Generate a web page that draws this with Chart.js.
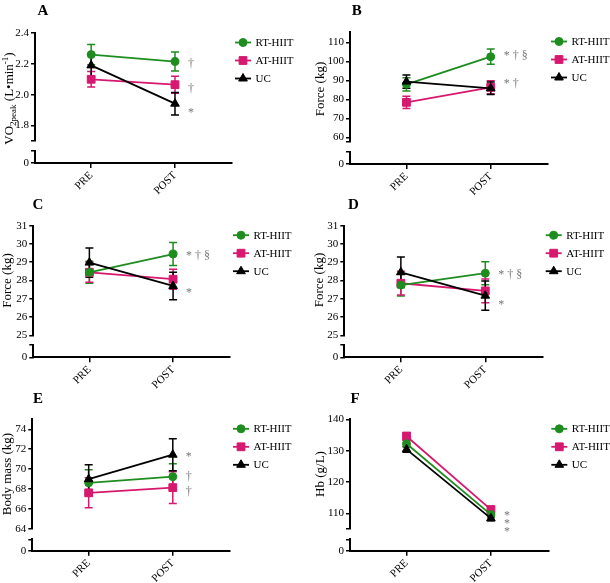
<!DOCTYPE html>
<html>
<head>
<meta charset="utf-8">
<script src="https://cdn.jsdelivr.net/npm/chart.js@4.4.0/dist/chart.umd.min.js"></script>
<style>
  html, body { margin: 0; padding: 0; background: #fff; }
  body { width: 610px; height: 583px; position: relative; overflow: hidden; }
  canvas { position: absolute; }
</style>
</head>
<body>
<canvas id="pA"></canvas>
<canvas id="pB"></canvas>
<canvas id="pC"></canvas>
<canvas id="pD"></canvas>
<canvas id="pE"></canvas>
<canvas id="pF"></canvas>
<script>
const categories = ['PRE', 'POST'];
const seriesNames = ['RT-HIIT', 'AT-HIIT', 'UC'];

// A - VO2peak (L/min), mean and SEM
const vo2Rt = [2.26, 2.215];  const vo2RtSem = [0.065, 0.062];
const vo2At = [2.10, 2.065];  const vo2AtSem = [0.05, 0.055];
const vo2Uc = [2.19, 1.942];  const vo2UcSem = [0.075, 0.073];
const vo2Ticks = [1.8, 2.0, 2.2, 2.4];
const vo2Marks = [['†', 2.2], ['†', 2.037], ['*', 1.904]];

// B - force (kg)
const forceBRt = [87.9, 102.4]; const forceBRtSem = [3.5, 4.0];
const forceBAt = [78.4, 86.3];  const forceBAtSem = [3.2, 3.4];
const forceBUc = [89.3, 85.8];  const forceBUcSem = [3.5, 3.3];
const forceBTicks = [60, 70, 80, 90, 100, 110];
const forceBMarks = [['* † §', 102.8], ['* †', 88]];

// C - force (kg)
const forceCRt = [28.45, 29.45]; const forceCRtSem = [0.6, 0.63];
const forceCAt = [28.45, 28.07]; const forceCAtSem = [0.55, 0.55];
const forceCUc = [28.98, 27.7];  const forceCUcSem = [0.8, 0.75];
const forceCTicks = [25, 26, 27, 28, 29, 30, 31];
const forceCMarks = [['* † §', 29.35], ['*', 27.5]];

// D - force (kg)
const forceDRt = [27.75, 28.4];  const forceDRtSem = [0.6, 0.63];
const forceDAt = [27.85, 27.43]; const forceDAtSem = [0.65, 0.65];
const forceDUc = [28.45, 27.17]; const forceDUcSem = [0.83, 0.8];
const forceDTicks = [25, 26, 27, 28, 29, 30, 31];
const forceDMarks = [['* † §', 28.3], ['*', 26.85]];

// E - body mass (kg)
const massRt = [68.63, 69.25]; const massRtSem = [1.3, 1.3];
const massAt = [67.63, 68.15]; const massAtSem = [1.5, 1.6];
const massUc = [69.0, 71.45];  const massUcSem = [1.45, 1.6];
const massTicks = [64, 66, 68, 70, 72, 74];
const massMarks = [['*', 71.5], ['†', 69.2], ['†', 67.7]];

// F - Hb (g/L)
const hbRt = [132.2, 109.6]; const hbRtSem = [1.0, 0.9];
const hbAt = [134.6, 111.2]; const hbAtSem = [1.2, 1.0];
const hbUc = [130.4, 108.4]; const hbUcSem = [0.9, 0.8];
const hbTicks = [110, 120, 130, 140];
const hbMarks = [['*', 110.1], ['*', 107.5], ['*', 104.9]];

const SERIF = "'Liberation Serif', 'Times New Roman', serif";
const colors = ['#1f8c1f', '#d6186f', '#000000'];
const markers = ['circle', 'rect', 'triangle'];
const markerSize = [4, 5.5, 5];
const drawOrder = [1, 2, 0]; // UC on top

const panels = [
  { id: 'pA', letter: 'A', letterAt: [43, 11], box: [0, 0, 300, 205],
    area: { l: 35, t: 33, ub: 141, lt: 151, b: 163, r: 232 }, range: [1.7, 2.4], digits: 1,
    ticks: vo2Ticks, marks: vo2Marks, titleAt: [10, 98.5],
    title: [{ t: 'VO' }, { t: '2peak', sub: true }, { t: ' (L•min' }, { t: '-1', sup: true }, { t: ')' }],
    series: [{ mean: vo2Rt, sem: vo2RtSem }, { mean: vo2At, sem: vo2AtSem }, { mean: vo2Uc, sem: vo2UcSem }] },
  { id: 'pB', letter: 'B', letterAt: [356.7, 11], box: [300, 0, 310, 205],
    area: { l: 350, t: 32, ub: 141.7, lt: 151.7, b: 164, r: 548 }, range: [57.7, 115.4], digits: 0,
    ticks: forceBTicks, marks: forceBMarks, titleAt: [320.7, 89], title: [{ t: 'Force (kg)' }],
    series: [{ mean: forceBRt, sem: forceBRtSem }, { mean: forceBAt, sem: forceBAtSem }, { mean: forceBUc, sem: forceBUcSem }] },
  { id: 'pC', letter: 'C', letterAt: [38, 205], box: [0, 193, 300, 205],
    area: { l: 33.3, t: 225.7, ub: 335.3, lt: 345, b: 357.3, r: 230 }, range: [25, 31], digits: 0,
    ticks: forceCTicks, marks: forceCMarks, titleAt: [7.3, 280.5], title: [{ t: 'Force (kg)' }],
    series: [{ mean: forceCRt, sem: forceCRtSem }, { mean: forceCAt, sem: forceCAtSem }, { mean: forceCUc, sem: forceCUcSem }] },
  { id: 'pD', letter: 'D', letterAt: [353.3, 205], box: [300, 193, 310, 205],
    area: { l: 344.3, t: 225.7, ub: 335.3, lt: 345, b: 357.3, r: 542.7 }, range: [25, 31], digits: 0,
    ticks: forceDTicks, marks: forceDMarks, titleAt: [319.5, 280], title: [{ t: 'Force (kg)' }],
    series: [{ mean: forceDRt, sem: forceDRtSem }, { mean: forceDAt, sem: forceDAtSem }, { mean: forceDUc, sem: forceDUcSem }] },
  { id: 'pE', letter: 'E', letterAt: [38, 399], box: [0, 387, 300, 196],
    area: { l: 32.3, t: 419.3, ub: 529, lt: 539.3, b: 550.7, r: 230 }, range: [64, 75], digits: 0,
    ticks: massTicks, marks: massMarks, titleAt: [7.3, 474], title: [{ t: 'Body mass (kg)' }],
    series: [{ mean: massRt, sem: massRtSem }, { mean: massAt, sem: massAtSem }, { mean: massUc, sem: massUcSem }] },
  { id: 'pF', letter: 'F', letterAt: [355, 399], box: [300, 387, 310, 196],
    area: { l: 350, t: 419.3, ub: 529, lt: 539.3, b: 550.7, r: 548.3 }, range: [105, 140], digits: 0,
    ticks: hbTicks, marks: hbMarks, titleAt: [320.7, 474], title: [{ t: 'Hb (g/L)' }],
    series: [{ mean: hbRt, sem: hbRtSem }, { mean: hbAt, sem: hbAtSem }, { mean: hbUc, sem: hbUcSem }] }
];

const Y_W = 28;

// error bars, legend, labels, annotations
function decor(p) {
  const [ox, oy] = p.box;
  return {
    id: 'decor',
    beforeDatasetsDraw(chart) {
      const { ctx } = chart;
      const x = chart.scales.x, y = chart.scales.y;
      chart.data.datasets.forEach(ds => {
        ctx.save();
        ctx.strokeStyle = ds.borderColor;
        ctx.lineWidth = 1.5;
        ds.data.forEach((pt, i) => {
          const px = x.getPixelForValue(pt.x);
          const top = y.getPixelForValue(pt.y + ds.sem[i]);
          const bot = y.getPixelForValue(pt.y - ds.sem[i]);
          ctx.beginPath();
          ctx.moveTo(px, top); ctx.lineTo(px, bot);
          ctx.moveTo(px - 4, top); ctx.lineTo(px + 4, top);
          ctx.moveTo(px - 4, bot); ctx.lineTo(px + 4, bot);
          ctx.stroke();
        });
        ctx.restore();
      });
    },
    afterDraw(chart) {
      const { ctx, chartArea: ca } = chart;
      const x = chart.scales.x, y = chart.scales.y;
      ctx.save();

      // legend
      seriesNames.forEach((name, k) => {
        const yy = ca.top + 9.5 + k * 18;
        const x0 = ca.right + 3;
        ctx.strokeStyle = colors[k];
        ctx.fillStyle = colors[k];
        ctx.lineWidth = 1.8;
        ctx.beginPath(); ctx.moveTo(x0, yy); ctx.lineTo(x0 + 16, yy); ctx.stroke();
        ctx.lineWidth = 1;
        Chart.helpers.drawPoint(ctx, { pointStyle: markers[k], rotation: 0, radius: markerSize[k], borderWidth: 1 }, x0 + 8, yy);
        ctx.fillStyle = '#000';
        ctx.font = '11px ' + SERIF;
        ctx.textAlign = 'left';
        ctx.textBaseline = 'middle';
        ctx.fillText(name, x0 + 20.5, yy + 0.5);
      });

      // significance marks next to POST
      ctx.fillStyle = '#777';
      ctx.font = '12px ' + SERIF;
      ctx.textAlign = 'left';
      ctx.textBaseline = 'middle';
      const postX = x.getPixelForValue(1);
      p.marks.forEach(([txt, v]) => {
        ctx.fillText(txt, postX + 13, y.getPixelForValue(v) + (txt === '*' ? 3 : 0));
      });

      // panel letter
      ctx.fillStyle = '#000';
      ctx.font = 'bold 15px ' + SERIF;
      ctx.textAlign = 'center';
      ctx.fillText(p.letter, p.letterAt[0] - ox, p.letterAt[1] - oy);

      // y title (rotated, with sub/superscripts)
      const main = '13px ' + SERIF, small = '9px ' + SERIF;
      let w = 0;
      p.title.forEach(s => { ctx.font = (s.sub || s.sup) ? small : main; w += ctx.measureText(s.t).width; });
      ctx.translate(p.titleAt[0] - ox, p.titleAt[1] - oy);
      ctx.rotate(-Math.PI / 2);
      ctx.textAlign = 'left';
      let cx = -w / 2;
      p.title.forEach(s => {
        ctx.font = (s.sub || s.sup) ? small : main;
        const dy = s.sub ? 3.5 : s.sup ? -4.5 : 0;
        ctx.fillText(s.t, cx, dy);
        cx += ctx.measureText(s.t).width;
      });
      ctx.restore();
    }
  };
}

function makeChart(p) {
  const cv = document.getElementById(p.id);
  const [ox, oy, cw, ch] = p.box;
  cv.width = cw; cv.height = ch;
  cv.style.left = ox + 'px'; cv.style.top = oy + 'px';
  const a = p.area;
  const xH = ch - (a.b - oy); // x axis takes everything below the plot
  const tickFont = { family: SERIF, size: 11 };
  const upperTicks = [...new Set([p.range[0], ...p.ticks])];

  new Chart(cv, {
    type: 'line',
    data: {
      datasets: p.series.map((s, k) => ({
        label: seriesNames[k],
        data: s.mean.map((v, i) => ({ x: i, y: v })),
        sem: s.sem,
        borderColor: colors[k],
        backgroundColor: colors[k],
        pointStyle: markers[k],
        pointRadius: markerSize[k],
        pointBorderWidth: 1,
        borderWidth: 1.8,
        order: drawOrder[k],
        xAxisID: 'x',
        yAxisID: 'y'
      }))
    },
    options: {
      responsive: false,
      animation: false,
      events: [],
      layout: {
        padding: {
          left: a.l - ox - Y_W,
          top: a.t - oy,
          right: cw - (a.r - ox),
          bottom: 0
        }
      },
      plugins: { legend: { display: false }, tooltip: { enabled: false } },
      scales: {
        x: {
          type: 'linear',
          min: -0.67,
          max: 1.68,
          afterBuildTicks: s => { s.ticks = categories.map((c, i) => ({ value: i })); },
          afterFit: s => { s.height = xH; },
          ticks: {
            callback: v => categories[v] ?? '',
            minRotation: 45, maxRotation: 45, autoSkip: false,
            color: '#000', font: tickFont, padding: 1
          },
          grid: { display: true, drawOnChartArea: false, drawTicks: true, tickLength: 5, color: '#000', lineWidth: 1.5 },
          border: { display: true, color: '#000', width: 2 }
        },
        y: {
          type: 'linear', position: 'left', stack: 'v', weight: 3,
          stackWeight: a.ub - a.t,
          min: p.range[0], max: p.range[1],
          afterBuildTicks: s => { s.ticks = upperTicks.map(v => ({ value: v })); },
          afterFit: s => { s.width = Y_W; },
          ticks: {
            callback: v => p.ticks.includes(v) ? v.toFixed(p.digits) : '',
            autoSkip: false,
            color: '#000', font: tickFont, padding: 2
          },
          grid: { display: true, drawOnChartArea: false, drawTicks: true, tickLength: 4, color: '#000', lineWidth: 1.5 },
          border: { display: true, color: '#000', width: 2 }
        },
        gap: {
          type: 'linear', position: 'left', stack: 'v', weight: 2,
          stackWeight: a.lt - a.ub,
          min: 0, max: 1,
          afterFit: s => { s.width = Y_W; },
          ticks: { display: false },
          grid: { display: false },
          border: { display: false }
        },
        y0: {
          type: 'linear', position: 'left', stack: 'v', weight: 1,
          stackWeight: a.b - a.lt,
          min: 0, max: 1,
          afterBuildTicks: s => { s.ticks = [{ value: 0 }, { value: 1 }]; },
          afterFit: s => { s.width = Y_W; },
          ticks: { callback: v => v === 0 ? '0' : '', autoSkip: false, color: '#000', font: tickFont, padding: 2 },
          grid: { display: true, drawOnChartArea: false, drawTicks: true, tickLength: 4, color: '#000', lineWidth: 1.5 },
          border: { display: true, color: '#000', width: 2 }
        }
      }
    },
    plugins: [decor(p)]
  });
}

panels.forEach(makeChart);
</script>
</body>
</html>
